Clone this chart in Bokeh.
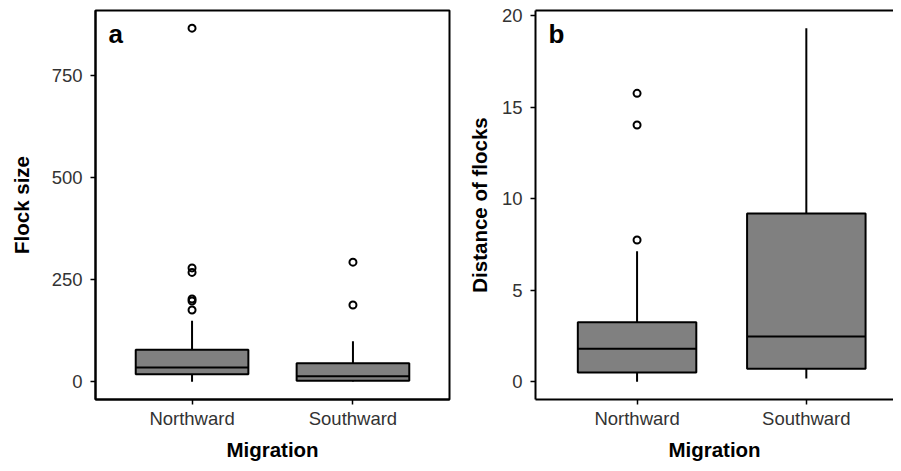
from bokeh.plotting import figure
from bokeh.models import FixedTicker, Label, LinearAxis, Range1d
from bokeh.layouts import row
from bokeh.embed import file_html
from bokeh.resources import INLINE

categories = ["Northward", "Southward"]

# Panel a: flock size
a_q1 = [18.7, 2.4]
a_median = [35.0, 13.8]
a_q3 = [78.6, 45.4]
a_low = [0.0, 0.5]
a_high = [149.8, 99.5]
a_outliers = [[176, 198, 203, 268, 279, 866], [188, 293]]
a_ticks = [0, 250, 500, 750]

# Panel b: distance of flocks
b_q1 = [0.51, 0.72]
b_median = [1.81, 2.48]
b_q3 = [3.25, 9.19]
b_low = [0.0, 0.18]
b_high = [7.13, 19.32]
b_outliers = [[7.75, 14.03, 15.76], []]
b_ticks = [0, 5, 10, 15, 20]

FONT = "Liberation Sans"
BOX_W = 0.7
FILL = "#808080"
TICK_COLOR = "#333333"


def make_panel(letter, ylabel, q1, med, q3, low, high, outliers, ticks,
               width, x_end, border_left, border_right, ylabel_standoff,
               full_outline):
    xs = [i + 1 for i in range(len(categories))]
    allv = low + high + [v for o in outliers for v in o]
    lo, hi = min(allv), max(allv)
    pad = 0.05 * (hi - lo)
    p = figure(width=width, height=463, output_backend="svg",
               toolbar_location=None,
               x_range=Range1d(0.4, x_end), y_range=Range1d(lo - pad, hi + pad),
               min_border_left=border_left, min_border_right=border_right,
               min_border_top=10, min_border_bottom=60)
    p.background_fill_color = "white"
    p.border_fill_color = "white"
    p.xgrid.visible = False
    p.ygrid.visible = False

    # whiskers
    p.segment(x0=xs, y0=q3, x1=xs, y1=high, line_color="black", line_width=2)
    p.segment(x0=xs, y0=q1, x1=xs, y1=low, line_color="black", line_width=2)
    # boxes
    p.vbar(x=xs, width=BOX_W, bottom=q1, top=q3, fill_color=FILL,
           line_color="black", line_width=2)
    # medians
    p.segment(x0=[x - BOX_W / 2 for x in xs], y0=med,
              x1=[x + BOX_W / 2 for x in xs], y1=med,
              line_color="black", line_width=2)
    # outliers
    ox = [xs[i] for i, o in enumerate(outliers) for _ in o]
    oy = [v for o in outliers for v in o]
    p.scatter(x=ox, y=oy, marker="circle", size=7, fill_color=None,
              line_color="black", line_width=2)

    for ax in (p.xaxis[0], p.yaxis[0]):
        ax.major_tick_out = 5
        ax.major_tick_in = 0
        ax.minor_tick_line_color = None
        ax.major_tick_line_color = "black"
        ax.major_tick_line_width = 1.5
        ax.major_label_text_font = FONT
        ax.major_label_text_font_size = "18.5px"
        ax.major_label_text_color = TICK_COLOR
        ax.axis_label_text_font = FONT
        ax.axis_label_text_font_size = "20.5px"
        ax.axis_label_text_font_style = "bold"
        ax.axis_label_text_color = "black"
        ax.axis_line_color = "black"
        ax.axis_line_width = 2

    p.xaxis.ticker = FixedTicker(ticks=xs)
    p.xaxis.major_label_overrides = {x: c for x, c in zip(xs, categories)}
    p.xaxis.axis_label = "Migration"
    p.xaxis.major_label_standoff = 3
    p.xaxis.axis_label_standoff = 6
    p.yaxis.ticker = FixedTicker(ticks=ticks)
    p.yaxis.axis_label = ylabel
    p.yaxis.major_label_standoff = 8
    p.yaxis.axis_label_standoff = ylabel_standoff

    if full_outline:
        p.outline_line_color = "black"
        p.outline_line_width = 2
    else:
        p.outline_line_color = None
        top = LinearAxis(ticker=FixedTicker(ticks=[]), axis_line_color="black",
                         axis_line_width=2, major_tick_out=0, major_tick_in=0,
                         minor_tick_line_color=None,
                         major_label_text_font_size="0px",
                         major_label_standoff=0)
        p.add_layout(top, "above")

    p.add_layout(Label(x=0.4, y=hi + pad, x_offset=13, y_offset=-8, text=letter,
                       text_font=FONT, text_font_size="26px",
                       text_font_style="bold", text_color="black",
                       text_baseline="top", text_align="left"))
    return p


pa = make_panel("a", "Flock size", a_q1, a_median, a_q3, a_low, a_high,
                a_outliers, a_ticks, 451, 2.6, 95, 2, 16, True)
pb = make_panel("b", "Distance of flocks", b_q1, b_median, b_q3, b_low, b_high,
                b_outliers, b_ticks, 442, 2.515, 84, 0, 8, False)

layout = row(pa, pb)
open("out.html", "w").write(file_html(layout, INLINE))
